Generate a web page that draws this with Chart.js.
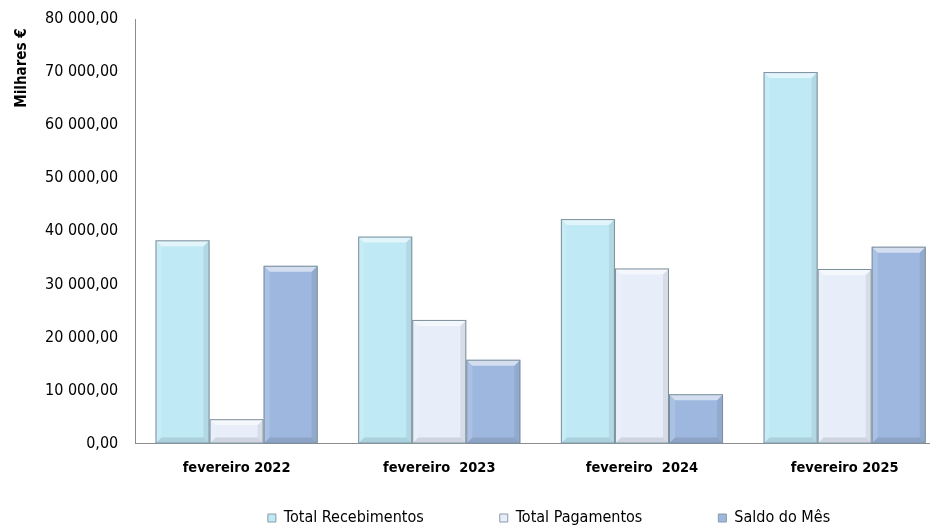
<!DOCTYPE html>
<html>
<head>
<meta charset="utf-8">
<script src="https://cdn.jsdelivr.net/npm/chart.js@4"></script>
<style>
    html, body { margin: 0; padding: 0; background: #fff; overflow: hidden; }
    #wrap { width: 946px; height: 528px; position: relative; }
</style>
</head>
<body>
<div id="wrap"><canvas id="grafico"></canvas></div>
<script>
const categorias = ['fevereiro 2022', 'fevereiro  2023', 'fevereiro  2024', 'fevereiro 2025'];
const recebimentos = [38300, 39000, 42300, 70000];
const pagamentos = [4600, 23300, 33000, 32900];
const saldo = [33500, 15800, 9300, 37100];
const seriesNomes = ['Total Recebimentos', 'Total Pagamentos', 'Saldo do Mês'];
const yTicks = [0, 10000, 20000, 30000, 40000, 50000, 60000, 70000, 80000];

const fonte = "'Liberation Sans Narrow', 'Arial Narrow', 'DejaVu Sans Condensed', sans-serif";
const espacos = '              ';

function formatar(v) {
    const partes = v.toFixed(2).split('.');
    partes[0] = partes[0].replace(/\B(?=(\d{3})+(?!\d))/g, ' ');
    return partes[0] + ',' + partes[1];
}

// efeito de bisel nas barras
const bisel = {
    id: 'bisel',
    afterDatasetsDraw(chart) {
        const ctx = chart.ctx;
        chart.data.datasets.forEach((ds, i) => {
            const meta = chart.getDatasetMeta(i);
            meta.data.forEach(el => {
                const p = el.getProps(['x', 'y', 'base', 'width'], true);
                const l = p.x - p.width / 2, r = p.x + p.width / 2;
                const t = Math.min(p.y, p.base), b = Math.max(p.y, p.base);
                const d = Math.min(6, (b - t) / 2);
                ctx.save();
                ctx.fillStyle = 'rgba(255,255,255,0.55)';
                ctx.beginPath();
                ctx.moveTo(l, t); ctx.lineTo(r, t); ctx.lineTo(r - d, t + d); ctx.lineTo(l + d, t + d);
                ctx.closePath(); ctx.fill();
                ctx.fillStyle = 'rgba(0,0,0,0.10)';
                ctx.beginPath();
                ctx.moveTo(l, b); ctx.lineTo(r, b); ctx.lineTo(r - d, b - d); ctx.lineTo(l + d, b - d);
                ctx.closePath(); ctx.fill();
                ctx.fillStyle = 'rgba(0,0,0,0.07)';
                ctx.beginPath();
                ctx.moveTo(r, t); ctx.lineTo(r, b); ctx.lineTo(r - d, b - d); ctx.lineTo(r - d, t + d);
                ctx.closePath(); ctx.fill();
                ctx.fillStyle = 'rgba(255,255,255,0.15)';
                ctx.beginPath();
                ctx.moveTo(l, t); ctx.lineTo(l, b); ctx.lineTo(l + d, b - d); ctx.lineTo(l + d, t + d);
                ctx.closePath(); ctx.fill();
                ctx.strokeStyle = '#7d8f9c';
                ctx.lineWidth = 1;
                ctx.strokeRect(l + 0.5, t + 0.5, r - l - 1, b - t - 1);
                ctx.restore();
            });
        });
    }
};

// desloca a legenda como no original
const legendaDesloc = {
    id: 'legendaDesloc',
    afterLayout(chart) {
        const lg = chart.legend;
        lg.left += 73;
        lg.right += 73;
        lg.top += 13;
        lg.bottom += 13;
    }
};

new Chart(document.getElementById('grafico'), {
    type: 'bar',
    data: {
        labels: categorias,
        datasets: [
            { label: seriesNomes[0], data: recebimentos, backgroundColor: '#bfe9f5' },
            { label: seriesNomes[1], data: pagamentos, backgroundColor: '#e7eef9' },
            { label: seriesNomes[2], data: saldo, backgroundColor: '#9db7de' }
        ]
    },
    options: {
        responsive: true,
        maintainAspectRatio: false,
        animation: false,
        layout: { padding: { top: 19, left: 6, right: 0, bottom: 5 } },
        datasets: { bar: { categoryPercentage: 0.8, barPercentage: 1 } },
        plugins: {
            legend: {
                position: 'bottom',
                labels: {
                    font: { family: fonte, size: 16 },
                    color: '#000',
                    boxWidth: 8,
                    boxHeight: 8,
                    padding: 12,
                    generateLabels(chart) {
                        return chart.data.datasets.map((ds, i) => ({
                            text: ds.label + (i < 2 ? espacos : ''),
                            fillStyle: ds.backgroundColor,
                            strokeStyle: '#8a9aa6',
                            lineWidth: 1,
                            datasetIndex: i,
                            hidden: false
                        }));
                    }
                }
            },
            tooltip: { enabled: false }
        },
        scales: {
            x: {
                grid: { display: false },
                border: { display: true, color: '#8c8c8c', width: 1 },
                ticks: { font: { family: fonte, size: 14.5, weight: 'bold' }, color: '#000', padding: 8 }
            },
            y: {
                min: 0,
                max: 80000,
                afterBuildTicks(axis) { axis.ticks = yTicks.map(v => ({ value: v })); },
                grid: { display: false, drawTicks: true, tickLength: 13 },
                border: { display: true, color: '#8c8c8c', width: 1 },
                ticks: {
                    font: { family: fonte, size: 16 },
                    color: '#000',
                    padding: 4,
                    callback: v => formatar(v)
                },
                title: {
                    display: true,
                    text: 'Milhares €  ',
                    align: 'end',
                    font: { family: fonte, size: 15, weight: 'bold' },
                    color: '#000',
                    padding: { top: 7, bottom: 10 }
                }
            }
        }
    },
    plugins: [bisel, legendaDesloc]
});
</script>
</body>
</html>
